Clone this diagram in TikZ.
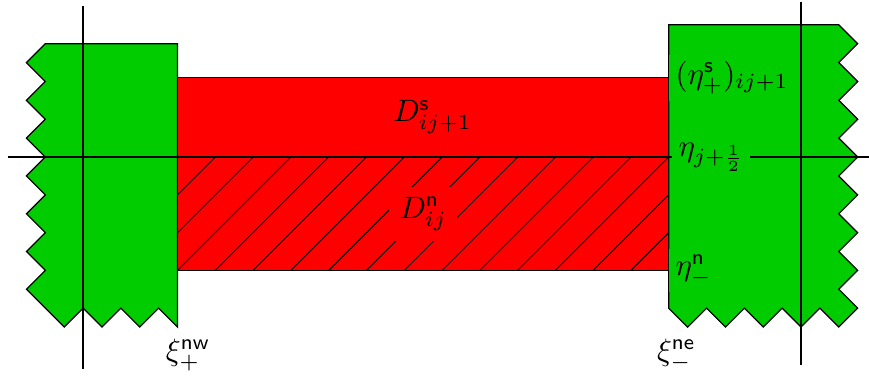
\documentclass[tikz,border=0pt]{standalone}
\usepackage{amsmath, amssymb}
\usepackage{tikz}

\begin{document}
\begin{tikzpicture}[scale=0.43,
  block/.style={draw, fill=green!80!black},
  strip/.style={draw, fill=red},
  axis/.style={line width=0.8pt},
  etalabel/.style={right, fill=green!80!black, inner sep=2pt}]
  \useasboundingbox (-2.2,-5.876) rectangle (20.8,4.156);
  % left cell
  \draw[block] (2.5,3)
    \foreach \y in {3,2,...,-3} { -- (-1,\y) -- (-1.5,\y-0.5) }
    \foreach \x in {-0.5,0.5,1.5} { -- (\x,-4.5) -- (\x+0.5,-4) }
    -- (2.5,-4.5) -- cycle;
  % right cell
  \draw[block] (15.5,3.5)
    \foreach \y in {3.5,2.5,...,-3.5} { -- (20,\y) -- (20.5,\y-0.5) }
    \foreach \x in {20,19,...,16} { -- (\x,-4.5) -- (\x-0.5,-4) }
    -- cycle;
  % strips
  \draw[strip] (2.5,0) rectangle (15.5,2.1);
  \draw[strip] (2.5,-3) rectangle (15.5,0);
  \begin{scope}
    \clip (2.5,-3) rectangle (15.5,0);
    \foreach \k in {-3,...,12}
      \draw[line width=0.3pt] (2.5+\k,-3) -- ++(3,3);
  \end{scope}
  % axes
  \draw[axis] (-2,0) -- (20.8,0);
  \draw[axis] (0,4) -- (0,-5.6);
  \draw[axis] (19,4.1) -- (19,-5.5);
  % labels
  \node[fill=red] (Ds) at (9.25,1.05) {$D^{\mathsf{s}}_{ij+1}$};
  \node[fill=red] (Dn) at (9,-1.5) {$D^{\mathsf{n}}_{ij}$};
  \node[etalabel] (etaS) at (15.5,2.1) {$(\eta^{\mathsf{s}}_+)_{ij+1}$};
  \node[etalabel, xshift=1pt] (etaMid) at (15.5,0) {$\eta_{j+\frac12}$};
  \node[etalabel] (etaN) at (15.5,-3) {$\eta^{\mathsf{n}}_-$};
  \node (xiNW) at (2.78,-5.24) {$\xi^{\mathsf{nw}}_+$};
  \node (xiNE) at (15.7,-5.24) {$\xi^{\mathsf{ne}}_-$};
\end{tikzpicture}
\end{document}
